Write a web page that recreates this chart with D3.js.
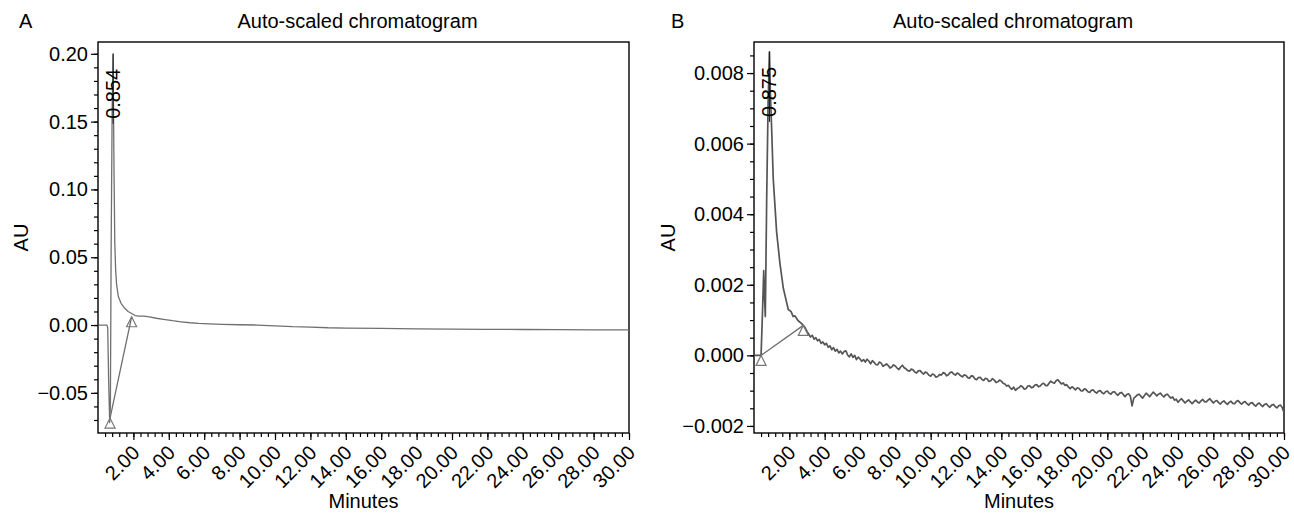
<!DOCTYPE html>
<html lang="en">
<head>
<meta charset="utf-8">
<script src="https://cdnjs.cloudflare.com/ajax/libs/d3/7.8.5/d3.min.js"></script>
<style>
  body { margin: 0; background: #fff; }
  svg text { font-family: "Liberation Sans", Arial, sans-serif; fill: #000; }
</style>
</head>
<body>
<svg id="chart" width="1294" height="515"></svg>
<script>
// ---- data ----
const chartTitle = "Auto-scaled chromatogram";
const xLabel = "Minutes";
const yLabel = "AU";
const xMajorTicks = [2, 4, 6, 8, 10, 12, 14, 16, 18, 20, 22, 24, 26, 28, 30];

// panel A
const aTime = [0.05, 0.30, 0.50, 0.55, 0.60, 0.66, 0.70, 0.74, 0.80, 0.854, 0.90, 0.95, 1.00, 1.05,
  1.15, 1.30, 1.50, 1.70, 1.90, 2.10, 2.30, 2.60, 2.90, 3.30, 3.70, 4.20, 4.70, 5.20, 5.70, 6.30,
  7.00, 8.00, 9.00, 10.00, 11.00, 12.00, 13.00, 14.00, 16.00, 18.00, 20.00, 22.00, 24.00,
  26.00, 28.00, 30.00];
const aAbs = [0.000, 0.000, 0.000, -0.002, -0.040, -0.072, -0.060, 0.050, 0.160, 0.200, 0.120, 0.060, 0.040, 0.030,
  0.021, 0.016, 0.0125, 0.0100, 0.0085, 0.0070, 0.0066, 0.0066, 0.0060, 0.0050, 0.0042, 0.0032, 0.0024, 0.0017, 0.0012, 0.0008,
  0.0005, 0.0002, 0.0000, -0.0006, -0.0012, -0.0015, -0.0020, -0.0022, -0.0025, -0.0028, -0.0030, -0.0032, -0.0033,
  -0.0034, -0.0035, -0.0036];
const aMarkTime = [0.68, 1.90];
const aMarkAbs = [-0.0686, 0.0061];
const aPeak = { time: 0.854, abs: 0.200, label: "0.854" };
const aYMajor = [-0.05, 0.00, 0.05, 0.10, 0.15, 0.20];
const aYDomain = [-0.0796, 0.2087];

// panel B (peak region, then baseline sampled every 0.1 min from 3.0)
const bTime = [0.05, 0.40, 0.48, 0.55, 0.60, 0.64, 0.72, 0.80, 0.875, 0.93, 1.00, 1.09, 1.28, 1.47,
  1.66, 1.80, 1.94, 2.10, 2.22, 2.32, 2.50, 2.65, 2.79, 2.90];
const bAbs = [0.0000, 0.0000, 0.0012, 0.0024, 0.0016, 0.0011, 0.0045, 0.0072, 0.0086, 0.0074, 0.0064, 0.0050, 0.0035, 0.0026,
  0.0019, 0.0016, 0.0013, 0.00124, 0.00110, 0.00112, 0.00098, 0.00092, 0.00085, 0.00078];
const bNoiseStart = 3.0;
const bNoiseStep = 0.1;
const bNoiseAbs = [
  0.00068, 0.00060, 0.00052, 0.00057, 0.00046, 0.00050, 0.00041, 0.00045, 0.00034, 0.00038,
  0.00030, 0.00034, 0.00023, 0.00027, 0.00016, 0.00022, 0.00012, 0.00017, 0.00007, 0.00012,
  0.00004, 0.00011, 0.00013, 0.00001, -0.00004, 0.00004, -0.00006, 0.00000, -0.00012, -0.00005,
  -0.00010, -0.00017, -0.00012, -0.00019, -0.00011, -0.00016, -0.00024, -0.00015, -0.00020, -0.00026,
  -0.00027, -0.00019, -0.00022, -0.00031, -0.00028, -0.00024, -0.00029, -0.00036, -0.00033, -0.00027,
  -0.00030, -0.00036, -0.00040, -0.00033, -0.00028, -0.00035, -0.00038, -0.00043, -0.00045, -0.00039,
  -0.00041, -0.00047, -0.00050, -0.00044, -0.00043, -0.00049, -0.00053, -0.00047, -0.00050, -0.00056,
  -0.00059, -0.00053, -0.00055, -0.00062, -0.00060, -0.00054, -0.00056, -0.00049, -0.00051, -0.00058,
  -0.00055, -0.00049, -0.00047, -0.00053, -0.00056, -0.00050, -0.00053, -0.00058, -0.00061, -0.00055,
  -0.00057, -0.00063, -0.00065, -0.00058, -0.00059, -0.00066, -0.00069, -0.00063, -0.00062, -0.00068,
  -0.00071, -0.00065, -0.00067, -0.00074, -0.00072, -0.00066, -0.00070, -0.00077, -0.00075, -0.00070,
  -0.00073, -0.00079, -0.00081, -0.00087, -0.00085, -0.00092, -0.00096, -0.00090, -0.00099, -0.00094,
  -0.00092, -0.00086, -0.00089, -0.00096, -0.00094, -0.00087, -0.00086, -0.00092, -0.00090, -0.00084,
  -0.00083, -0.00089, -0.00087, -0.00081, -0.00079, -0.00085, -0.00086, -0.00079, -0.00073, -0.00077,
  -0.00079, -0.00072, -0.00069, -0.00075, -0.00081, -0.00078, -0.00085, -0.00083, -0.00090, -0.00094,
  -0.00089, -0.00093, -0.00098, -0.00092, -0.00094, -0.00100, -0.00101, -0.00095, -0.00097, -0.00103,
  -0.00105, -0.00099, -0.00098, -0.00104, -0.00107, -0.00101, -0.00100, -0.00106, -0.00109, -0.00103,
  -0.00101, -0.00107, -0.00110, -0.00104, -0.00103, -0.00109, -0.00113, -0.00107, -0.00105, -0.00111,
  -0.00117, -0.00111, -0.00109, -0.00115, -0.00143, -0.00121, -0.00117, -0.00112, -0.00110, -0.00116,
  -0.00121, -0.00114, -0.00107, -0.00112, -0.00117, -0.00110, -0.00104, -0.00109, -0.00115, -0.00110,
  -0.00107, -0.00113, -0.00118, -0.00112, -0.00110, -0.00116, -0.00121, -0.00118, -0.00127, -0.00124,
  -0.00133, -0.00127, -0.00123, -0.00129, -0.00135, -0.00130, -0.00126, -0.00132, -0.00137, -0.00131,
  -0.00127, -0.00132, -0.00135, -0.00129, -0.00125, -0.00131, -0.00132, -0.00127, -0.00123, -0.00129,
  -0.00135, -0.00130, -0.00128, -0.00134, -0.00138, -0.00132, -0.00129, -0.00135, -0.00139, -0.00133,
  -0.00130, -0.00136, -0.00137, -0.00131, -0.00128, -0.00134, -0.00138, -0.00133, -0.00131, -0.00137,
  -0.00141, -0.00135, -0.00134, -0.00140, -0.00144, -0.00138, -0.00135, -0.00141, -0.00145, -0.00139,
  -0.00137, -0.00143, -0.00147, -0.00141, -0.00139, -0.00145, -0.00149, -0.00143, -0.00141, -0.00148,
  -0.00162];
const bMarkTime = [0.40, 2.79];
const bMarkAbs = [0.0000, 0.00085];
const bPeak = { time: 0.875, abs: 0.0086, label: "0.875" };
const bYMajor = [-0.002, 0.000, 0.002, 0.004, 0.006, 0.008];
const bYDomain = [-0.0022, 0.00888];

// ---- layout ----
const svg = d3.select("#chart");
const plotTop = 42, plotBottom = 433;

function drawPanel(opt) {
  const g = svg.append("g");
  const x = d3.scaleLinear().domain([0, 30]).range([opt.left, opt.right]);
  const y = d3.scaleLinear().domain(opt.yDomain).range([plotBottom, plotTop]);
  const midX = (opt.left + opt.right) / 2;

  // clip so the trace stays in the box
  g.append("clipPath").attr("id", "clip" + opt.name)
    .append("rect").attr("x", opt.left).attr("y", plotTop)
    .attr("width", opt.right - opt.left).attr("height", plotBottom - plotTop);

  // minor ticks
  const yMinor = d3.range(opt.yDomain[0], opt.yDomain[1], opt.yMinorStep)
    .map(v => Math.round(v / opt.yMinorStep) * opt.yMinorStep)
    .filter(v => v >= opt.yDomain[0] && v <= opt.yDomain[1]);
  g.append("g").attr("transform", `translate(${opt.left},0)`)
    .call(d3.axisLeft(y).tickValues(yMinor).tickSize(4).tickSizeOuter(0).tickFormat(""))
    .call(s => s.select(".domain").remove());
  const xMinor = d3.range(1, 76).map(i => i * 0.4);
  g.append("g").attr("transform", `translate(0,${plotBottom})`)
    .call(d3.axisBottom(x).tickValues(xMinor).tickSize(4).tickSizeOuter(0).tickFormat(""))
    .call(s => s.select(".domain").remove());

  // major ticks + labels
  g.append("g").attr("transform", `translate(${opt.left},0)`)
    .call(d3.axisLeft(y).tickValues(opt.yMajor).tickSize(7).tickPadding(3)
      .tickSizeOuter(0).tickFormat(d3.format(opt.yFormat)))
    .call(s => s.select(".domain").remove())
    .call(s => s.selectAll("text").attr("font-size", 20).attr("font-family", null));
  g.append("g").attr("transform", `translate(0,${plotBottom})`)
    .call(d3.axisBottom(x).tickValues(xMajorTicks).tickSize(7).tickSizeOuter(0).tickFormat(d3.format(".2f")))
    .call(s => s.select(".domain").remove())
    .call(s => s.selectAll("text")
      .attr("font-size", 20).attr("font-family", null)
      .attr("text-anchor", "end").attr("y", 0).attr("dy", "0.35em")
      .attr("transform", "translate(2,16) rotate(-45)"));
  g.selectAll(".tick line").attr("stroke", "#000").attr("stroke-width", 1.2);

  // frame
  g.append("rect").attr("x", opt.left).attr("y", plotTop)
    .attr("width", opt.right - opt.left).attr("height", plotBottom - plotTop)
    .attr("fill", "none").attr("stroke", "#000").attr("stroke-width", 1.4);

  // trace
  const pts = opt.time.map((t, i) => [t, opt.abs[i]]);
  if (opt.noise) opt.noise.forEach((v, i) => pts.push([opt.noiseStart + i * opt.noiseStep, v]));
  const line = d3.line().x(d => x(d[0])).y(d => y(d[1]));
  g.append("path").datum(pts).attr("d", line)
    .attr("clip-path", `url(#clip${opt.name})`)
    .attr("fill", "none").attr("stroke", opt.color).attr("stroke-width", opt.width)
    .attr("stroke-linejoin", "round");

  // integration baseline + triangle markers
  const marks = opt.markTime.map((t, i) => [t, opt.markAbs[i]]);
  g.append("path").datum(marks).attr("d", line)
    .attr("fill", "none").attr("stroke", "#6e6e6e").attr("stroke-width", 1.3);
  g.selectAll(".mark").data(marks).join("path")
    .attr("d", d => {
      const px = x(d[0]), py = y(d[1]);
      return `M${px},${py}L${px - 5},${py + 10}L${px + 5},${py + 10}Z`;
    })
    .attr("fill", "none").attr("stroke", "#777").attr("stroke-width", 1.2);

  // peak apex tick + retention time label
  const px = x(opt.peak.time), py = y(opt.peak.abs);
  g.append("line").attr("x1", px).attr("x2", px).attr("y1", py).attr("y2", py + 70)
    .attr("stroke", "#222").attr("stroke-width", 1.1);
  g.append("text").attr("transform", `translate(${px},${py + 15}) rotate(-90)`)
    .attr("text-anchor", "end").attr("dy", "0.35em").attr("font-size", 20)
    .text(opt.peak.label);

  // titles
  g.append("text").attr("x", opt.panelX).attr("y", 28).attr("font-size", 20).text(opt.name);
  g.append("text").attr("x", midX - 6).attr("y", 28)
    .attr("text-anchor", "middle").attr("font-size", 20).text(chartTitle);
  g.append("text").attr("x", midX).attr("y", 508)
    .attr("text-anchor", "middle").attr("font-size", 20).text(xLabel);
  g.append("text").attr("transform", `translate(${opt.yLabelX},${(plotTop + plotBottom) / 2}) rotate(-90)`)
    .attr("text-anchor", "middle").attr("dy", "0.35em").attr("font-size", 20).text(yLabel);
}

drawPanel({
  name: "A", left: 98, right: 629, panelX: 19, yLabelX: 21,
  yDomain: aYDomain, yMajor: aYMajor, yMinorStep: 0.01, yFormat: ".2f",
  time: aTime, abs: aAbs, markTime: aMarkTime, markAbs: aMarkAbs, peak: aPeak,
  color: "#707070", width: 1.3
});
drawPanel({
  name: "B", left: 754, right: 1284, panelX: 671, yLabelX: 668,
  yDomain: bYDomain, yMajor: bYMajor, yMinorStep: 0.0005, yFormat: ".3f",
  time: bTime, abs: bAbs, noise: bNoiseAbs, noiseStart: bNoiseStart, noiseStep: bNoiseStep,
  markTime: bMarkTime, markAbs: bMarkAbs, peak: bPeak,
  color: "#555555", width: 1.7
});
</script>
</body>
</html>
